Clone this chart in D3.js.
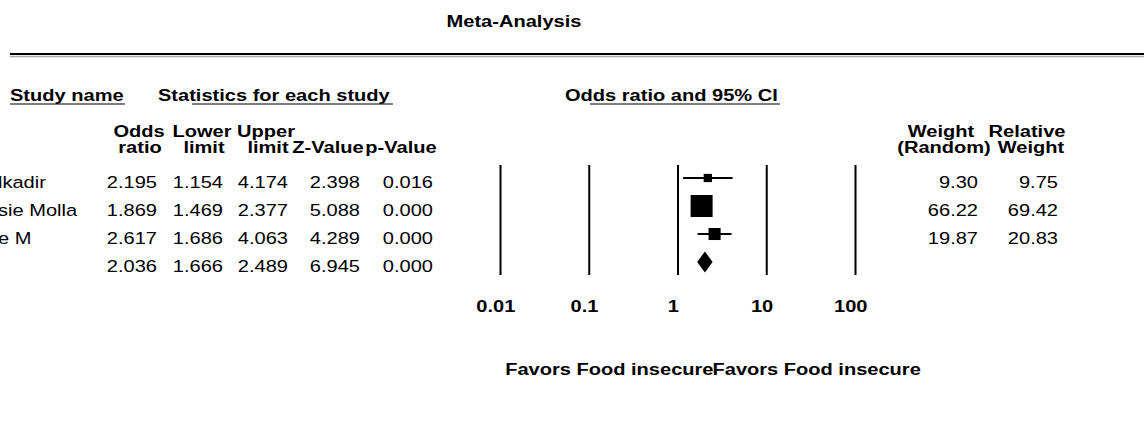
<!DOCTYPE html>
<html>
<head>
<meta charset="utf-8">
<script src="https://cdn.jsdelivr.net/npm/d3@7"></script>
<style>
  body { margin: 0; background: #fff; }
  svg text { font-family: "Liberation Sans", Arial, sans-serif; font-size: 17px; fill: #000; }
  .b { font-weight: bold; }
</style>
</head>
<body>
<svg width="1144" height="426"></svg>
<script>
// data
var studyNames = ["lkadir", "sie Molla", "e M"];
var oddsRatio = [2.195, 1.869, 2.617];
var lowerLimit = [1.154, 1.469, 1.686];
var upperLimit = [4.174, 2.377, 4.063];
var zValue = [2.398, 5.088, 4.289];
var pValue = [0.016, 0.000, 0.000];
var weightRandom = [9.30, 66.22, 19.87];
var relativeWeight = [9.75, 69.42, 20.83];
// pooled: odds ratio, lower, upper, z, p
var pooled = [2.036, 1.666, 2.489, 6.945, 0.000];
var tickValues = [0.01, 0.1, 1, 10, 100];
var tickLabels = ["0.01", "0.1", "1", "10", "100"];

var svg = d3.select("svg");
var SX = 1.18; // text in the picture is drawn a bit wide

function txt(g, x, y, s, anchor, bold) {
  return g.append("text")
      .attr("class", bold ? "b" : null)
      .attr("transform", "translate(" + x + "," + y + ") scale(" + SX + ",1)")
      .attr("text-anchor", anchor || "start")
      .text(s);
}

var x = d3.scaleLog().domain([0.01, 100]).range([500, 855]);
var y = d3.scaleLinear().domain([0, 3]).range([178, 262]);
var size = d3.scaleSqrt().domain([0, d3.max(relativeWeight)]).range([0, 22]);
var f3 = d3.format(".3f"), f2 = d3.format(".2f");

// title + rule
txt(svg, 514, 27, "Meta-Analysis", "middle", true);
svg.append("line").attr("x1", 10).attr("x2", 1144).attr("y1", 56.5).attr("y2", 56.5)
    .attr("stroke", "#aaa").attr("stroke-width", 1.5);
svg.append("line").attr("x1", 10).attr("x2", 1144).attr("y1", 54).attr("y2", 54)
    .attr("stroke", "#000").attr("stroke-width", 2);

// group headers
var groups = [
  {t: "Study name", x: 10, u: [10, 125]},
  {t: "Statistics for each study", x: 158, u: [192, 393]},
  {t: "Odds ratio and 95% CI", x: 565, u: [590, 780]}
];
groups.forEach(function(h) {
  txt(svg, h.x, 101, h.t, "start", true);
  svg.append("line").attr("x1", h.u[0]).attr("x2", h.u[1]).attr("y1", 104).attr("y2", 104)
      .attr("stroke", "#000").attr("stroke-width", 1.2);
});

// column headers (two lines) and value columns
var cols = [
  {h: ["Odds", "ratio"], c: [139, 140], r: 157, v: oddsRatio, f: f3, p: pooled[0]},
  {h: ["Lower", "limit"], c: [202, 204], r: 223, v: lowerLimit, f: f3, p: pooled[1]},
  {h: ["Upper", "limit"], c: [266, 268], r: 288, v: upperLimit, f: f3, p: pooled[2]},
  {h: ["", "Z-Value"], c: [0, 328], r: 360, v: zValue, f: f3, p: pooled[3]},
  {h: ["", "p-Value"], c: [0, 401], r: 433, v: pValue, f: f3, p: pooled[4]},
  {h: ["Weight", "(Random)"], c: [941, 944], r: 978, v: weightRandom, f: f2},
  {h: ["Relative", "Weight"], c: [1027, 1031], r: 1058, v: relativeWeight, f: f2}
];
cols.forEach(function(col) {
  col.h.forEach(function(s, k) {
    if (s) txt(svg, col.c[k], k === 0 ? 137 : 153, s, "middle", true);
  });
  col.v.forEach(function(v, i) {
    txt(svg, col.r, y(i) + 10, col.f(v), "end");
  });
  if (col.p !== undefined) txt(svg, col.r, y(3) + 10, col.f(col.p), "end");
});

studyNames.forEach(function(s, i) {
  txt(svg, -2, y(i) + 10, s, "start");
});

// axis with full-height reference lines
var axis = svg.append("g")
    .attr("transform", "translate(0,275)")
    .call(d3.axisBottom(x)
        .tickValues(tickValues)
        .tickFormat(function(d, i) { return tickLabels[i]; })
        .tickSize(-110)
        .tickPadding(25));
axis.select(".domain").remove();
axis.selectAll(".tick line").attr("stroke", "#000").attr("stroke-width", 2);
axis.selectAll(".tick text")
    .attr("class", "b")
    .attr("x", -4)
    .attr("transform", "scale(" + SX + ",1)")
    .style("font-size", "17px")
    .style("font-family", "'Liberation Sans', Arial, sans-serif");

// study CIs and boxes
var marks = svg.append("g");
marks.selectAll("line.ci")
    .data(oddsRatio)
    .enter().append("line")
      .attr("class", "ci")
      .attr("x1", function(d, i) { return x(lowerLimit[i]); })
      .attr("x2", function(d, i) { return x(upperLimit[i]); })
      .attr("y1", function(d, i) { return y(i); })
      .attr("y2", function(d, i) { return y(i); })
      .attr("stroke", "#000").attr("stroke-width", 2);

marks.selectAll("rect")
    .data(oddsRatio)
    .enter().append("rect")
      .attr("x", function(d, i) { return x(d) - size(relativeWeight[i]) / 2; })
      .attr("y", function(d, i) { return y(i) - size(relativeWeight[i]) / 2; })
      .attr("width", function(d, i) { return size(relativeWeight[i]); })
      .attr("height", function(d, i) { return size(relativeWeight[i]); })
      .attr("fill", "#000");

// pooled diamond
var py = y(3);
marks.append("path")
    .attr("d", "M" + x(pooled[1]) + "," + py +
               "L" + x(pooled[0]) + "," + (py - 10.5) +
               "L" + x(pooled[2]) + "," + py +
               "L" + x(pooled[0]) + "," + (py + 10.5) + "Z")
    .attr("fill", "#000");

// favours labels
txt(svg, x(1) + 36, 375, "Favors Food insecure", "end", true);
txt(svg, x(1) + 35, 375, "Favors Food insecure", "start", true);
</script>
</body>
</html>
